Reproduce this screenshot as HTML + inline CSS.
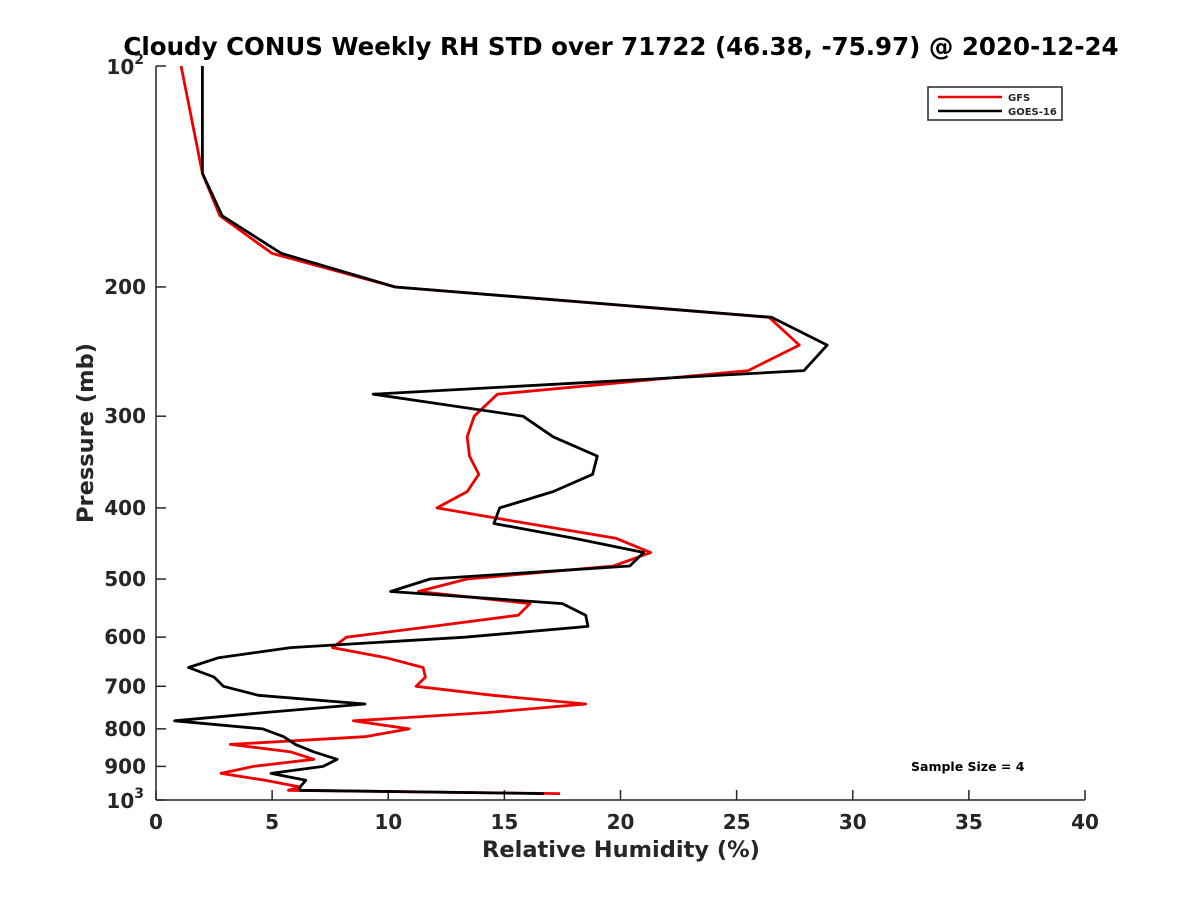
<!DOCTYPE html>
<html><head><meta charset="utf-8"><style>
body{margin:0;background:#fff;}
svg text{font-family:"DejaVu Sans","Liberation Sans",sans-serif;font-weight:bold;fill:#262626;}
</style></head><body>
<svg id="chart" width="1200" height="900" viewBox="0 0 1200 900">
<rect width="1200" height="900" fill="#fff"/>
<text x="621" y="55" font-size="24.5" text-anchor="middle" style="fill:#000">Cloudy CONUS Weekly RH STD over 71722 (46.38, -75.97) @ 2020-12-24</text>
<g id="axes"></g>
<g id="series"></g>
<text x="621" y="857" font-size="22.5" text-anchor="middle">Relative Humidity (%)</text>
<text transform="translate(93,433) rotate(-90)" font-size="22.5" text-anchor="middle">Pressure (mb)</text>
<g>
<rect x="928" y="87" width="134" height="33" fill="#fff" stroke="#262626" stroke-width="1.5"/>
<line x1="938" y1="97" x2="1002" y2="97" stroke="#e00" stroke-width="2.5"/>
<text x="1008" y="101" font-size="10">GFS</text>
<line x1="938" y1="111" x2="1002" y2="111" stroke="#000" stroke-width="2.5"/>
<text x="1008" y="115" font-size="10">GOES-16</text>
</g>
<text x="911" y="771" font-size="12.5" style="fill:#000">Sample Size = 4</text>
</svg>
<script>
const pressures=[100,140,160,180,200,220,240,260,280,300,320,340,360,380,400,420,440,460,480,500,520,540,560,580,600,620,640,660,680,700,720,740,760,780,800,820,840,860,880,900,920,940,960,970,980];
const gfsValues=[1.08,2.0,2.75,5.0,10.3,26.4,27.7,25.5,14.7,13.7,13.4,13.5,13.9,13.4,12.1,16.0,19.8,21.3,19.7,13.4,11.3,16.1,15.6,11.9,8.2,7.6,9.9,11.5,11.6,11.2,14.5,18.5,14.3,8.5,10.9,9.0,3.2,5.8,6.8,4.2,2.8,4.7,6.2,5.7,17.4];
const goesValues=[2.0,2.0,2.85,5.4,10.3,26.5,28.9,27.9,9.35,15.8,17.1,19.0,18.8,17.1,14.8,14.55,18.0,21.0,20.4,11.8,10.1,17.5,18.5,18.6,13.3,5.8,2.7,1.4,2.5,2.9,4.4,9.0,4.7,0.8,4.6,5.5,6.0,6.8,7.8,7.2,4.95,6.45,6.2,6.2,16.7];
const xTicks=[0,5,10,15,20,25,30,35,40];
const yTicks=[100,200,300,400,500,600,700,800,900,1000];
const yTickLabels=["10^2","200","300","400","500","600","700","800","900","10^3"];
const X0=156,X1=1085,Y0=66,Y1=800;
const xs=v=>X0+(v-0)/(40-0)*(X1-X0);
const ys=p=>Y0+Math.log10(p/100)*(Y1-Y0);
const NS="http://www.w3.org/2000/svg";
const axes=document.getElementById('axes'),series=document.getElementById('series');
function mk(t,a,parent){const e=document.createElementNS(NS,t);for(const k in a)e.setAttribute(k,a[k]);parent.appendChild(e);return e;}
let e=mk('line',{x1:X0,y1:Y0,x2:X0,y2:Y1,stroke:'#262626','stroke-width':1.5},axes);


e=mk('line',{x1:X0,y1:Y1,x2:X1,y2:Y1,stroke:'#262626','stroke-width':1.5},axes);


xTicks.forEach(v=>{
 const x=xs(v);
 let t=mk('line',{x1:x,y1:Y1,x2:x,y2:Y1-10,stroke:'#262626','stroke-width':1.5},axes);
 
 
 let l=mk('text',{x:x,y:Y1+29,'font-size':20,'text-anchor':'middle'},axes);
 l.textContent=v;
 
 
});
yTicks.forEach((p,i)=>{
 const y=ys(p);
 let t=mk('line',{x1:X0,y1:y,x2:X0+10,y2:y,stroke:'#262626','stroke-width':1.5},axes);
 
 
 const lab=yTickLabels[i];
 let l;
 if(lab.indexOf('^')>=0){
  const parts=lab.split('^');
  l=mk('text',{x:X0-12,y:y+8,'font-size':20,'text-anchor':'end'},axes);
  const a=mk('tspan',{},l);a.textContent=parts[0];
  const b=mk('tspan',{'font-size':14,dy:-10},l);b.textContent=parts[1];
 }else{
  l=mk('text',{x:X0-10,y:y+7,'font-size':20,'text-anchor':'end'},axes);
  l.textContent=lab;
 }
 
 
});
function drawLine(vals,color,name){
 const pts=vals.map((v,i)=>xs(v).toFixed(1)+','+ys(pressures[i]).toFixed(1)).join(' ');
 const pl=mk('polyline',{points:pts,fill:'none',stroke:color,'stroke-width':2.8,'stroke-linejoin':'round'},series);
 
 
}
drawLine(gfsValues,'#e00','gfs-line');
drawLine(goesValues,'#000','goes16-line');
</script>
</body></html>
